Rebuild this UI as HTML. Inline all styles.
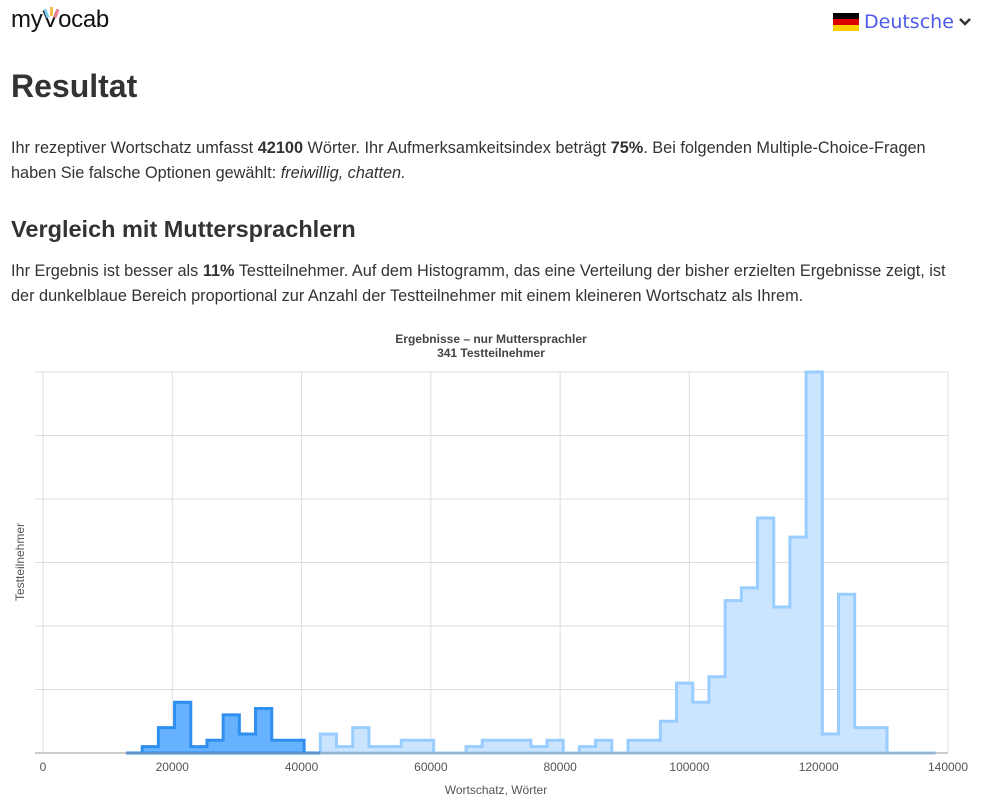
<!DOCTYPE html>
<html><head><meta charset="utf-8">
<style>
body{margin:0;width:1007px;height:797px;background:#fff;font-family:"Liberation Sans",sans-serif;color:#333;position:relative;overflow:hidden}
.abs{position:absolute}
p{margin:0}
.txt{font-family:"Liberation Sans",sans-serif;font-size:16.3px;line-height:24.5px;color:#333}
</style></head><body>
<div class="abs" style="left:11px;top:6px;font-size:24px;color:#111;letter-spacing:-0.3px">my<span style="position:relative">V<span style="position:absolute;left:3px;top:3px;width:3px;height:9px;background:#7fcff0;transform:rotate(-20deg)"></span><span style="position:absolute;left:8px;top:1px;width:3px;height:9px;background:#f5c04c"></span><span style="position:absolute;left:13px;top:3px;width:3px;height:9px;background:#ef7d8d;transform:rotate(20deg)"></span></span>ocab</div>
<div class="abs" style="left:833px;top:10px;height:24px;display:flex;align-items:center">
 <div style="width:26px;height:18px;display:flex;flex-direction:column"><div style="flex:1;background:#000"></div><div style="flex:1;background:#dd0000"></div><div style="flex:1;background:#ffce00"></div></div>
 <span style="font-family:'DejaVu Sans',sans-serif;font-size:19px;color:#4d5be8;margin-left:5px">Deutsche</span>
 <svg width="14" height="10" style="margin-left:4px"><polyline points="2,2 7,7 12,2" fill="none" stroke="#333" stroke-width="2.5"/></svg>
</div>
<div class="abs" style="left:11px;top:68px;font-weight:bold;font-size:32px;color:#333">Resultat</div>
<p class="abs txt" style="left:11px;top:136px;width:955px">Ihr rezeptiver Wortschatz umfasst <b>42100</b> Wörter. Ihr Aufmerksamkeitsindex beträgt <b>75%</b>. Bei folgenden Multiple-Choice-Fragen haben Sie falsche Optionen gewählt: <i>freiwillig, chatten.</i></p>
<div class="abs" style="left:11px;top:216px;font-weight:bold;font-size:23.5px;color:#333">Vergleich mit Muttersprachlern</div>
<p class="abs txt" style="left:11px;top:259px;width:955px">Ihr Ergebnis ist besser als <b>11%</b> Testteilnehmer. Auf dem Histogramm, das eine Verteilung der bisher erzielten Ergebnisse zeigt, ist der dunkelblaue Bereich proportional zur Anzahl der Testteilnehmer mit einem kleineren Wortschatz als Ihrem.</p>
<svg class="abs" id="chart" style="left:0;top:320px" width="1007" height="477"></svg>
<script>
const binStart=12840;
const binWidth=2505;
const counts=[0,1,4,8,1,2,6,3,7,2,2,0,3,1,4,1,1,2,2,0,0,1,2,2,2,1,2,0,1,2,0,2,2,5,11,8,12,24,26,37,23,34,60,3,25,4,4,0,0,0];
const userScore=42100;
const xTicks=[0,20000,40000,60000,80000,100000,120000,140000];
const yTicks=[0,10,20,30,40,50,60];
const svg=document.getElementById('chart');
const NS='http://www.w3.org/2000/svg';
const X=v=>43+v*(905/140000);
const Y=v=>433-v*(381/60);
function mk(t,a,p){const e=document.createElementNS(NS,t);for(const k in a)e.setAttribute(k,a[k]);(p||svg).appendChild(e);return e;}
yTicks.forEach(t=>{const l=mk('line',{x1:35,x2:948,y1:Y(t),y2:Y(t),stroke:t==0?'#999':'#ddd','stroke-width':1});

});
xTicks.forEach(t=>{const l=mk('line',{x1:X(t),x2:X(t),y1:Y(60),y2:Y(0),stroke:'#ddd'});


const tx=mk('text',{x:X(t),y:451,'text-anchor':'middle','font-size':12,fill:'#555','font-family':'Liberation Sans, sans-serif'});tx.textContent=t;

});
function stepPath(idx){
  if(!idx.length)return '';
  const s0=binStart+idx[0]*binWidth;
  let d='M'+X(s0)+','+Y(0);
  idx.forEach(i=>{const s=binStart+i*binWidth,e=s+binWidth;d+=' L'+X(s)+','+Y(counts[i])+' L'+X(e)+','+Y(counts[i]);});
  const eN=binStart+(idx[idx.length-1]+1)*binWidth;
  d+=' L'+X(eN)+','+Y(0)+' Z';return d;
}
const darkIdx=[],lightIdx=[];
counts.forEach((c,i)=>{const s=binStart+i*binWidth;((s+binWidth/2)<userScore?darkIdx:lightIdx).push(i);});
const pl=mk('path',{d:stepPath(lightIdx),fill:'#cce5ff',stroke:'#99ccff','stroke-width':3,'stroke-linejoin':'miter'});


const pd=mk('path',{d:stepPath(darkIdx),fill:'#66b2ff',stroke:'#2f8ff0','stroke-width':3,'stroke-linejoin':'miter'});


mk('line',{x1:35,x2:948,y1:Y(0),y2:Y(0),stroke:'#999'});
const t1=mk('text',{x:491,y:23,'text-anchor':'middle','font-size':12,'font-weight':'bold',fill:'#444'});t1.textContent='Ergebnisse – nur Muttersprachler';


const t2=mk('text',{x:491,y:37,'text-anchor':'middle','font-size':12,'font-weight':'bold',fill:'#444'});t2.textContent='341 Testteilnehmer';


const xt=mk('text',{x:496,y:474,'text-anchor':'middle','font-size':12,fill:'#555'});xt.textContent='Wortschatz, Wörter';


const yt=mk('text',{x:0,y:0,'text-anchor':'middle','font-size':12,fill:'#555',transform:'translate(24,242) rotate(-90)'});yt.textContent='Testteilnehmer';


</script>
</body></html>
